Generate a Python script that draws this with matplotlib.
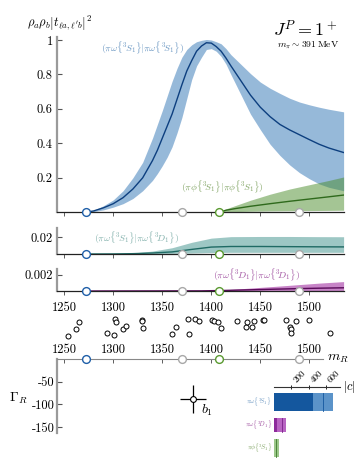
import numpy as np
import matplotlib
matplotlib.use("Agg")
import matplotlib.pyplot as plt

plt.rcParams['mathtext.fontset'] = 'cm'
plt.rcParams['font.family'] = ['cmr10', 'DejaVu Serif']
plt.rcParams['axes.unicode_minus'] = False

# ---------------- data ----------------
# pi-omega 3S1 -> 3S1
m_ss = [1272, 1280, 1290, 1300, 1310, 1320, 1330, 1340, 1345, 1350, 1355, 1360, 1365, 1370, 1375,
        1380, 1385, 1390, 1395, 1400, 1405, 1410, 1415, 1420, 1430, 1440, 1450, 1460, 1470, 1480,
        1490, 1500, 1510, 1520, 1535]
ss_c = [0, 0.008, 0.026, 0.05, 0.085, 0.135, 0.20, 0.30, 0.36, 0.43, 0.50, 0.57, 0.655, 0.74, 0.82,
        0.88, 0.935, 0.965, 0.984, 0.982, 0.962, 0.935, 0.895, 0.85, 0.765, 0.68, 0.61, 0.555, 0.51,
        0.478, 0.45, 0.422, 0.395, 0.373, 0.347]
ss_hi = [0, 0.012, 0.038, 0.072, 0.125, 0.20, 0.29, 0.43, 0.51, 0.59, 0.675, 0.76, 0.835, 0.90, 0.945,
         0.972, 0.99, 0.998, 1.003, 1.0, 0.99, 0.978, 0.95, 0.915, 0.86, 0.805, 0.756, 0.72, 0.69,
         0.662, 0.64, 0.624, 0.61, 0.598, 0.583]
ss_lo = [0, 0.004, 0.014, 0.03, 0.05, 0.08, 0.125, 0.185, 0.225, 0.27, 0.32, 0.38, 0.46, 0.55, 0.66,
         0.77, 0.85, 0.90, 0.945, 0.95, 0.935, 0.905, 0.86, 0.80, 0.685, 0.57, 0.48, 0.395, 0.33,
         0.275, 0.23, 0.195, 0.165, 0.145, 0.125]

# pi-phi 3S1 -> 3S1
m_ff = [1408, 1415, 1425, 1440, 1460, 1480, 1500, 1520, 1535]
ff_c = [0, 0.012, 0.022, 0.035, 0.05, 0.064, 0.077, 0.09, 0.1]
ff_hi = [0, 0.02, 0.04, 0.07, 0.105, 0.135, 0.16, 0.185, 0.205]
ff_lo = [0, 0.002, 0.004, 0.006, 0.008, 0.009, 0.01, 0.011, 0.012]

# pi-omega 3S1 -> 3D1
m_sd = [1272, 1300, 1320, 1340, 1360, 1380, 1400, 1420, 1450, 1480, 1510, 1535]
sd_c = [0, 0.0001, 0.0004, 0.0012, 0.0025, 0.0055, 0.0083, 0.009, 0.009, 0.0088, 0.0086, 0.0085]
sd_hi = [0, 0.0003, 0.0012, 0.0035, 0.0075, 0.014, 0.019, 0.0208, 0.021, 0.021, 0.0208, 0.0207]
sd_lo = [0, 0, 0.0001, 0.0003, 0.0007, 0.0012, 0.0018, 0.002, 0.002, 0.002, 0.002, 0.002]

# pi-omega 3D1 -> 3D1
m_dd = [1272, 1390, 1410, 1430, 1450, 1470, 1490, 1510, 1535]
dd_c = [0, 0.00002, 0.00006, 0.00012, 0.00018, 0.00024, 0.0003, 0.00035, 0.0004]
dd_hi = [0, 0.00003, 0.00012, 0.00028, 0.00045, 0.00062, 0.0008, 0.00098, 0.00117]
dd_lo = [0, 0, 0, 0, 0, 0, 0, 0, 0]

# thresholds (circles on axes)
thr_m = [1272, 1370, 1408, 1490]
thr_kind = ['blue', 'gray', 'green', 'gray']

# lattice energy levels (m, vertical offset)
lev_m = [1253.5, 1261.9, 1264.7, 1293.6, 1301.0, 1302.0, 1302.4, 1309.9, 1312.7, 1329.0, 1329.6,
         1330.3, 1359.9, 1364.0, 1376.5, 1377.2, 1383.4, 1387.4, 1401.0, 1403.1, 1406.5, 1409.9,
         1426.2, 1435.7, 1436.4, 1441.8, 1443.9, 1452.4, 1453.5, 1476.2, 1480.3, 1481.3, 1481.3,
         1486.7, 1499.4, 1521.2]
lev_y = [51.4, 66.2, 81.6, 58.0, 53.6, 88.2, 82.3, 66.8, 73.5, 86.7, 83.8, 69.0, 55.2, 70.6,
         88.2, 55.8, 87.6, 83.2, 86.0, 84.5, 82.3, 69.0, 83.2, 71.3, 82.3, 71.3, 84.5, 86.7,
         86.0, 86.0, 71.3, 66.8, 56.7, 84.5, 86.0, 56.7]

# b1 pole
pole_m, pole_g = 1381.6, -89.0
pole_dm, pole_dg = 13.3, 31.0

# couplings |c|
c_labels = [r'$\pi\omega\{{}^3\!S_1\}$', r'$\pi\omega\{{}^3\!D_1\}$', r'$\pi\phi\{{}^3\!S_1\}$']
c_lo = [450, 38, 0]
c_mid = [565, 88, 20]
c_hi = [680, 134, 58]

xticks = [1250, 1300, 1350, 1400, 1450, 1500]

# ---------------- style ----------------
W, H = 360, 471
fig = plt.figure(figsize=(W / 100, H / 100), dpi=100)

def pax(x0, y0, x1, y1):
    return fig.add_axes([x0 / W, 1 - y1 / H, (x1 - x0) / W, (y1 - y0) / H])

XL = (1242.6, 1535.4)
SPINE_G = '#9a9a9a'
c_blue_band, c_blue_line = '#2f74b5', '#0d3f7f'
c_green_band, c_green_line = '#4a8c2a', '#2f6a1c'
c_teal_band, c_teal_line = '#3d918a', '#1f6a64'
c_purp_band, c_purp_line = '#9a1f9a', '#5a0a5a'
thr_col = {'blue': '#1f5fa8', 'gray': '#a8a8a8', 'green': '#5a9a30'}

def style_top(ax, ylim, yticks, ylabels, show_labels=False):
    ax.set_xlim(*XL)
    ax.set_ylim(*ylim)
    for s in ['top', 'right']:
        ax.spines[s].set_visible(False)
    ax.spines['left'].set_color(SPINE_G)
    ax.spines['left'].set_linewidth(1.6)
    ax.spines['bottom'].set_color('#222222')
    ax.spines['bottom'].set_linewidth(0.9)
    ax.set_xticks(xticks)
    ax.tick_params(axis='x', direction='out', length=3, width=0.6, color='#444444',
                   labelsize=9, pad=4.5, labelbottom=show_labels)
    ax.set_yticks(yticks)
    ax.set_yticklabels(ylabels)
    ax.tick_params(axis='y', direction='in', length=3.5, width=0.8, color='#555555',
                   labelsize=9, pad=3)
    ax.patch.set_alpha(0)

def thresholds(ax, y0=0):
    for m, k in zip(thr_m, thr_kind):
        ax.plot(m, y0, 'o', ms=5.6, mfc='white', mec=thr_col[k], mew=1.0,
                clip_on=False, zorder=10)

# Panel 1
ax1 = pax(57, 36.6, 344, 212.3)
style_top(ax1, (0, (212.3 - 36.6) / 172.3), [0.2, 0.4, 0.6, 0.8, 1.0], ['0.2', '0.4', '0.6', '0.8', '1'])
ax1.fill_between(m_ss, ss_lo, ss_hi, color=c_blue_band, alpha=0.5, lw=0)
ax1.plot(m_ss, ss_c, color=c_blue_line, lw=1.0)
ax1.fill_between(m_ff, ff_lo, ff_hi, color=c_green_band, alpha=0.5, lw=0)
ax1.plot(m_ff, ff_c, color=c_green_line, lw=1.0)
thresholds(ax1)
ax1.text(1330, 0.956, r'$(\pi\omega\{{}^3\!S_1\}|\pi\omega\{{}^3\!S_1\})$',
         color='#6f9ac4', fontsize=7, ha='center', va='center')
ax1.text(1411, 0.147, r'$(\pi\phi\{{}^3\!S_1\}|\pi\phi\{{}^3\!S_1\})$',
         color='#86a86a', fontsize=7, ha='center', va='center')

# Panel 2
ax2 = pax(57, 228.3, 344, 254)
style_top(ax2, (0, 0.0308), [0.02], ['0.02'])
ax2.fill_between(m_sd, sd_lo, sd_hi, color=c_teal_band, alpha=0.5, lw=0)
ax2.plot(m_sd, sd_c, color=c_teal_line, lw=1.0)
thresholds(ax2)
ax2.text(1324, 0.0198, r'$(\pi\omega\{{}^3\!S_1\}|\pi\omega\{{}^3\!D_1\})$',
         color='#86b3ae', fontsize=7, ha='center', va='center')

# Panel 3
ax3 = pax(57, 269.3, 344, 291)
style_top(ax3, (0, 0.0027), [0.002], ['0.002'], show_labels=True)
ax3.set_xticklabels([str(t) for t in xticks])
ax3.fill_between(m_dd, dd_lo, dd_hi, color=c_purp_band, alpha=0.55, lw=0)
ax3.plot(m_dd, dd_c, color=c_purp_line, lw=1.0)
thresholds(ax3)
ax3.text(1446, 0.002, r'$(\pi\omega\{{}^3\!D_1\}|\pi\omega\{{}^3\!D_1\})$',
         color='#a55aa5', fontsize=7, ha='center', va='center')

# Lower panel: pole plane
ax4 = pax(57, 314, 344, 433)
ax4.set_xlim(*XL)
ax4.set_ylim(-163.2, 99.3)
ax4.patch.set_alpha(0)
ax4.spines['right'].set_visible(False)
ax4.spines['bottom'].set_visible(False)
ax4.spines['left'].set_color(SPINE_G)
ax4.spines['left'].set_linewidth(1.6)
ax4.spines['left'].set_bounds(-163, 0)
ax4.spines['top'].set_position(('data', 0))
ax4.spines['top'].set_color('#888888')
ax4.spines['top'].set_linewidth(0.8)
ax4.spines['top'].set_bounds(XL[0], 1514)
ax4.xaxis.set_ticks_position('top')
ax4.set_xticks(xticks)
ax4.set_xticklabels([str(t) for t in xticks])
ax4.tick_params(axis='x', direction='in', length=3, width=0.6, color='#444444',
                labelsize=9, pad=2.5)
ax4.set_yticks([-50, -100, -150])
ax4.set_yticklabels(['-50', '-100', '-150'])
ax4.tick_params(axis='y', direction='in', length=3.5, width=0.8, color='#555555',
                labelsize=9, pad=1.5)
ax4.plot(lev_m, lev_y, 'o', ms=3.6, mfc='white', mec='black', mew=0.7, clip_on=False)
thresholds(ax4)
ax4.errorbar([pole_m], [pole_g], xerr=[pole_dm], yerr=[pole_dg], fmt='o', ms=4.2,
             mfc='white', mec='black', mew=0.8, ecolor='black', elinewidth=0.9, capsize=0, zorder=5)
ax4.text(pole_m + 14, pole_g - 24, r'$b_1$', fontsize=10, ha='center', va='center')

# coupling inset
ax5 = pax(274, 386.7, 340, 460)
ax5.set_xlim(0, 755)
ax5.set_ylim(2.52, -0.648)
ax5.patch.set_alpha(0)
for s in ['bottom', 'left', 'right']:
    ax5.spines[s].set_visible(False)
ax5.spines['top'].set_color('#333333')
ax5.spines['top'].set_linewidth(0.8)
ax5.xaxis.set_ticks_position('top')
ax5.set_xticks([200, 400, 600])
ax5.set_xticklabels(['200', '400', '600'], rotation=45, ha='left', va='bottom')
ax5.tick_params(axis='x', direction='inout', length=3, width=0.6, labelsize=6.5, pad=0)
ax5.set_yticks([])
dark = ['#14579e', '#8d2a9b', '#7fb26a']
light = ['#5b93c9', '#b864c2', '#9cc78a']
mark = ['#14579e', '#7a1f88', '#3d7a2a']
lab_col = ['#6f9ac4', '#a55aa5', '#86a86a']
heights = [0.78, 0.62, 0.76]
for i in range(3):
    ax5.barh(i, c_lo[i], height=heights[i], color=dark[i], lw=0)
    ax5.barh(i, c_hi[i] - c_lo[i], left=c_lo[i], height=heights[i], color=light[i], lw=0)
    ax5.plot([c_mid[i], c_mid[i]], [i - heights[i] / 2, i + heights[i] / 2], color=mark[i], lw=0.6)
    ax5.text(-18, i, c_labels[i], color=lab_col[i], fontsize=4.8, ha='right', va='center')

# texts
fig.text(60 / W, 1 - 23 / H, r'$\rho_a\rho_b\left|t_{\ell a,\ell^\prime b}\right|^2$',
         fontsize=9, ha='center', va='center')
fig.text(305 / W, 1 - 29 / H, r'$J^P = 1^+$', fontsize=13, ha='center', va='center')
fig.text(308 / W, 1 - 45 / H, r'$m_\pi \sim 391\,\mathrm{MeV}$', fontsize=7, ha='center', va='center')
fig.text(338 / W, 1 - 359 / H, r'$m_R$', fontsize=10, ha='center', va='center')
fig.text(18 / W, 1 - 398 / H, r'$\Gamma_R$', fontsize=10, ha='center', va='center')
fig.text(349 / W, 1 - 387 / H, r'$|c|$', fontsize=9, ha='center', va='center')

fig.savefig('out.png', dpi=100)
